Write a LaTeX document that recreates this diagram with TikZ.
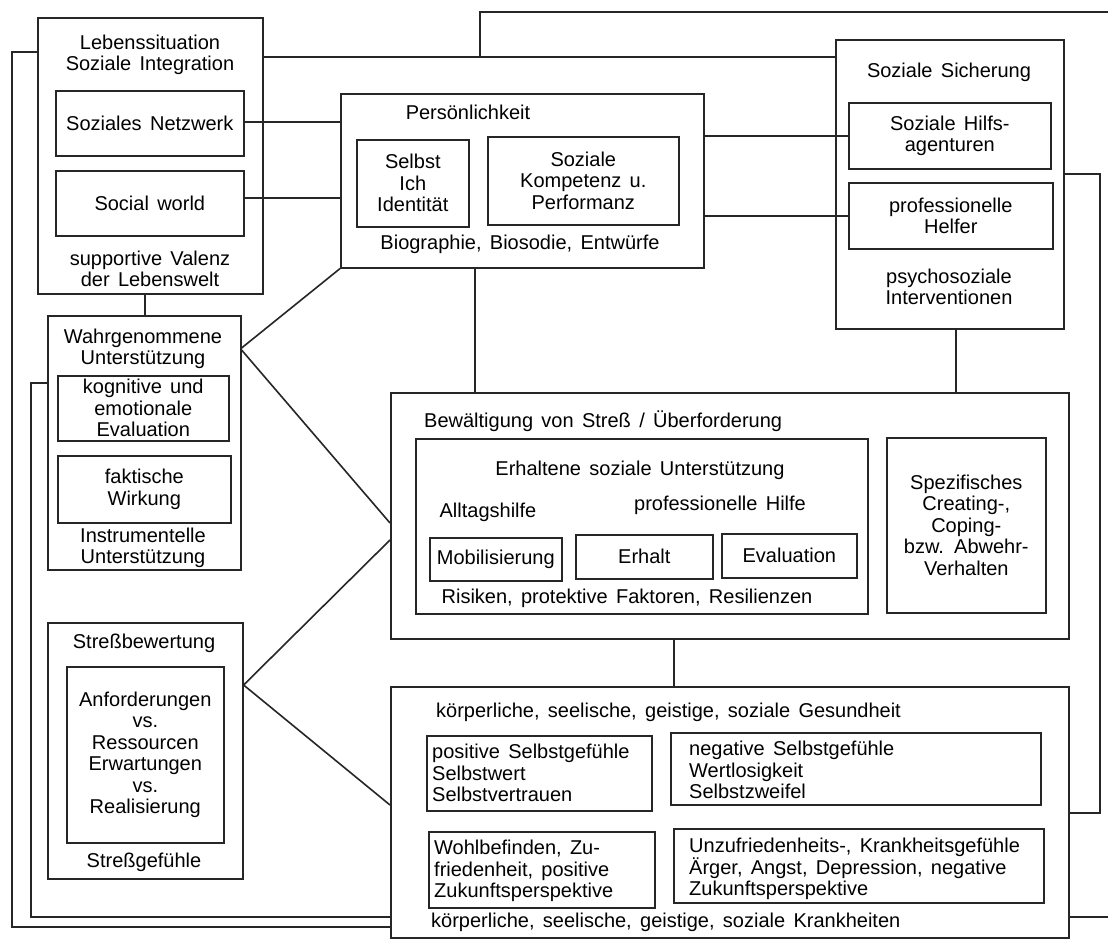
\documentclass[tikz,border=0pt]{standalone}
\usepackage{fontspec}
\setmainfont{Liberation Sans}[WordSpace=1.5]
\newcommand{\fs}{\fontsize{20}{21.5}\selectfont}
\newcommand{\fsw}{\fontsize{20}{23}\selectfont}
\tikzset{
  box/.style={draw=black!85, line width=1.6pt, align=center, font=\fs, inner sep=2pt},
  conn/.style={draw=black!85, line width=1.6pt},
  txt/.style={inner sep=0pt, align=center, font=\fs},
  ltxt/.style={inner sep=0pt, align=left, font=\fs, anchor=west},
}
\newcommand{\rbox}[6]{\node[box, anchor=north west, minimum width={(#4-#2)*1pt}, minimum height={(#5-#3)*1pt}] (#1) at (#2,#3) {#6};}
\begin{document}
\begin{tikzpicture}[x=1pt,y=-1pt]
\useasboundingbox (0,0) rectangle (1108,939);
\fill[white] (0,0) rectangle (1108,939);

% Lebenssituation
\rbox{leb}{37}{17}{262}{293}{}
\rbox{netz}{55}{90}{243}{155}{Soziales Netzwerk}
\rbox{world}{55}{170}{243}{235}{Social world}
\node[txt] (lebt) at (150,55) {Lebenssituation\\Soziale Integration};
\node[txt] (lebb) at (150,269) {supportive Valenz\\der Lebenswelt};

% Persoenlichkeit
\rbox{pers}{340}{93}{703}{267}{}
\node[txt] (perst) at (468,112) {Persönlichkeit};
\rbox{selbst}{356}{139}{468}{226}{Selbst\\Ich\\Identität}
\rbox{komp}{487}{136}{678}{224}{Soziale\\Kompetenz u.\\Performanz}
\node[txt] (persb) at (520,244) {Biographie, Biosodie, Entwürfe};

% Soziale Sicherung
\rbox{sich}{835}{39}{1063}{328}{}
\node[txt] (sicht) at (949,72) {Soziale Sicherung};
\rbox{hilfs}{848}{102}{1050}{168}{Soziale Hilfs-\\agenturen}
\rbox{helfer}{848}{182}{1052}{248}{professionelle\\Helfer}
\node[txt] (sichb) at (949,287) {psychosoziale\\Interventionen};

% Wahrgenommene Unterstuetzung
\rbox{wahr}{47}{315}{240}{569}{}
\node[txt] (wahrt) at (143,349) {Wahrgenommene\\Unterstützung};
\rbox{kogn}{57}{375}{228}{440}{kognitive und\\emotionale\\Evaluation}
\rbox{fakt}{57}{455}{230}{522}{faktische\\Wirkung}
\node[txt] (wahrb) at (143,548) {Instrumentelle\\Unterstützung};

% Stressbewertung
\rbox{stress}{47}{622}{242}{878}{}
\node[txt] (stresst) at (144,643) {Streßbewertung};
\rbox{anf}{66}{666}{223}{842}{Anforderungen\\vs.\\Ressourcen\\Erwartungen\\vs.\\Realisierung}
\node[txt] (stressb) at (144,862) {Streßgefühle};

% Bewaeltigung
\rbox{bew}{390}{392}{1068}{638}{}
\node[ltxt] (bewt) at (424,421) {Bewältigung von Streß / Überforderung};
\rbox{erh}{415}{438}{867}{613}{}
\node[txt] (erht) at (640,470) {Erhaltene soziale Unterstützung};
\node[txt] (allt) at (488,512) {Alltagshilfe};
\node[txt] (profh) at (720,505) {professionelle Hilfe};
\rbox{mob}{429}{537}{561}{580}{Mobilisierung}
\rbox{erhalt}{575}{534}{712}{578}{Erhalt}
\rbox{eval}{721}{533}{856}{577}{Evaluation}
\node[txt] (risk) at (627,598) {Risiken, protektive Faktoren, Resilienzen};
\rbox{spez}{886}{437}{1045}{612}{\fsw Spezifisches\\Creating-,\\Coping-\\bzw. Abwehr-\\Verhalten}

% Gesundheit
\rbox{ges}{390}{686}{1068}{937}{}
\node[ltxt] (gest) at (436,712) {körperliche, seelische, geistige, soziale Gesundheit};
\rbox{pos}{426}{735}{651}{810}{}
\node[ltxt] (post) at (432,773) {positive Selbstgefühle\\Selbstwert\\Selbstvertrauen};
\rbox{neg}{670}{732}{1040}{804}{}
\node[ltxt] (negt) at (689,770) {negative Selbstgefühle\\Wertlosigkeit\\Selbstzweifel};
\rbox{wohl}{428}{831}{654}{907}{}
\node[ltxt] (wohlt) at (434,871) {Wohlbefinden, Zu-\\friedenheit, positive\\Zukunftsperspektive};
\rbox{unz}{673}{828}{1043}{902}{}
\node[ltxt] (unzt) at (689,869) {Unzufriedenheits-, Krankheitsgefühle\\Ärger, Angst, Depression, negative\\Zukunftsperspektive};
\node[ltxt] (gesb) at (431,922) {körperliche, seelische, geistige, soziale Krankheiten};

% connectors
\coordinate (topr) at (1108,12);
\coordinate (botr) at (1108,917);
\draw[conn] (leb.west |- 0,52) -- (12,52) -- (12,927) -- (ges.west |- 0,927);
\draw[conn] (wahr.west |- 0,383) -- (31,383) -- (31,917) -- (ges.west |- 0,917);
\draw[conn] (leb.south -| 145,0) -- (wahr.north -| 145,0);
\draw[conn] (netz.east |- 0,122) -- (pers.west |- 0,122);
\draw[conn] (world.east |- 0,198) -- (pers.west |- 0,198);
\draw[conn] (pers.east |- hilfs.west) -- (hilfs.west);
\draw[conn] (pers.east |- helfer.west) -- (helfer.west);
\draw[conn] (leb.east |- 0,57) -- (sich.west |- 0,57);
\draw[conn] (480,57) -- (480,12) -- (topr);
\draw[conn] (pers.south west) -- (wahr.east |- 0,348);
\draw[conn] (wahr.east |- 0,350) -- (bew.west |- 0,523);
\draw[conn] (stress.east |- 0,685) -- (bew.west |- 0,540);
\draw[conn] (stress.east |- 0,685) -- (ges.west |- 0,805);
\draw[conn] (pers.south -| 475,0) -- (bew.north -| 475,0);
\draw[conn] (sich.south -| 956,0) -- (bew.north -| 956,0);
\draw[conn] (bew.south -| 674,0) -- (ges.north -| 674,0);
\draw[conn] (sich.east |- 0,174) -- (1100,174) -- (1100,813) -- (ges.east |- 0,813);
\draw[conn] (ges.east |- botr) -- (botr);
\end{tikzpicture}
\end{document}
